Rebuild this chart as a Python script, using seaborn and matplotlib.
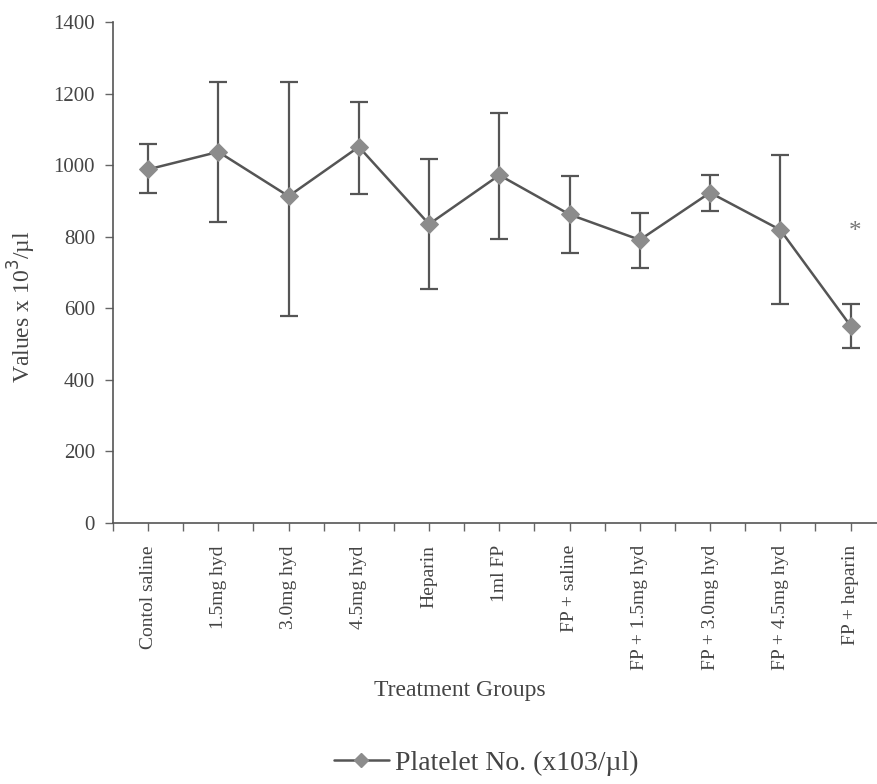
from matplotlib import pyplot as plt
from matplotlib.lines import Line2D
import pandas as pd
import seaborn as sns

groups = ["Contol saline", "1.5mg hyd", "3.0mg hyd", "4.5mg hyd", "Heparin", "1ml FP",
          "FP + saline", "FP + 1.5mg hyd", "FP + 3.0mg hyd", "FP + 4.5mg hyd", "FP + heparin"]
platelets = [988, 1037, 913, 1051, 835, 972, 862, 791, 923, 819, 551]
upper = [1058, 1233, 1233, 1175, 1016, 1145, 970, 865, 972, 1028, 611]
lower = [921, 840, 578, 919, 654, 793, 754, 712, 873, 611, 488]
y_ticks = [0, 200, 400, 600, 800, 1000, 1200, 1400]

sns.set_style("ticks")
plt.rcParams['font.family'] = ['Liberation Serif', 'DejaVu Serif']

txt = '#444444'
line_c = '#555555'
mark_c = '#8c8c8c'

table = pd.DataFrame({"pos": range(len(groups)), "value": platelets})

fig = plt.figure(figsize=(8.78, 7.84), dpi=100)
ax = fig.add_axes([0.1287, 0.333, 0.880, 0.639])

err_lo = [p - l for p, l in zip(platelets, lower)]
err_hi = [u - p for u, p in zip(upper, platelets)]
ax.errorbar(table["pos"], table["value"], yerr=[err_lo, err_hi], fmt='none',
            ecolor=line_c, elinewidth=1.6, capsize=6.5, capthick=1.6, zorder=2)

sns.lineplot(data=table, x="pos", y="value", ax=ax, color=line_c, linewidth=1.8,
             marker='D', markersize=9, markerfacecolor=mark_c, markeredgecolor=mark_c,
             zorder=3)

ax.text(10.07, 814, "*", color='#777777', fontsize=18, ha='center', va='center')

ax.set_xlim(-0.5, 10.5)
ax.set_ylim(0, 1400)
ax.set_xticks(range(len(groups)))
ax.set_xticks([i + 0.5 for i in range(-1, len(groups))], minor=True)
ax.set_xticklabels(groups, rotation=90, fontsize=14, color=txt)
ax.set_yticks(y_ticks)
ax.set_yticklabels([str(v) for v in y_ticks], fontsize=15, color=txt)
ax.tick_params(axis='x', which='both', length=6, width=1, color='#666666', pad=10)
ax.tick_params(axis='y', length=6, width=1, color='#666666', pad=7)

for side in ['top', 'right']:
    ax.spines[side].set_visible(False)
for side in ['left', 'bottom']:
    ax.spines[side].set_color('#555555')
    ax.spines[side].set_linewidth(1.2)

ax.set_xlabel("Treatment Groups", fontsize=17, color=txt)
ax.xaxis.set_label_coords(0.449, -0.313)
ax.set_ylabel("Values x 10$^3$/µl", fontsize=17, color=txt)
ax.yaxis.set_label_coords(-0.097, 0.431)

handle = Line2D([], [], color=line_c, linewidth=1.8, marker='D', markersize=7,
                markerfacecolor=mark_c, markeredgecolor=mark_c)
fig.legend([handle], ["Platelet No. (x103/µl)"], loc='center',
           bbox_to_anchor=(486 / 878, 1 - 763 / 784), frameon=False,
           fontsize=20, labelcolor=txt, handlelength=2.0, handletextpad=0.2)

fig.savefig("out.png", dpi=100)
